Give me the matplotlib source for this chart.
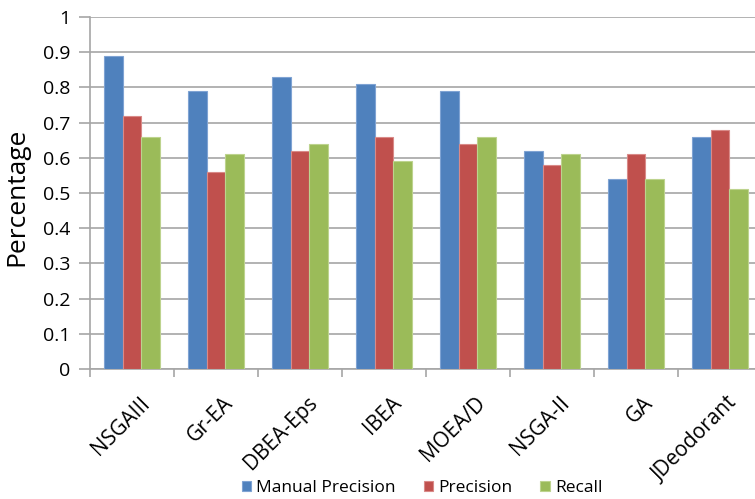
import numpy as np
import matplotlib
matplotlib.use("Agg")
import matplotlib.pyplot as plt
import matplotlib.transforms as mtransforms

plt.rcParams['font.family'] = ['Open Sans', 'DejaVu Sans']

categories = ["NSGAIII", "Gr-EA", "DBEA-Eps", "IBEA", "MOEA/D", "NSGA-II", "GA", "JDeodorant"]
manual_precision = [0.89, 0.79, 0.83, 0.81, 0.79, 0.62, 0.54, 0.66]
precision = [0.72, 0.56, 0.62, 0.66, 0.64, 0.58, 0.61, 0.68]
recall = [0.66, 0.61, 0.64, 0.59, 0.66, 0.61, 0.54, 0.51]
series_names = ["Manual Precision", "Precision", "Recall"]
y_ticks = [0, 0.1, 0.2, 0.3, 0.4, 0.5, 0.6, 0.7, 0.8, 0.9, 1]
y_tick_labels = ["0", "0.1", "0.2", "0.3", "0.4", "0.5", "0.6", "0.7", "0.8", "0.9", "1"]

fills = ["#4F81BD", "#C0504D", "#9BBB59"]
edges = ["#7FA3D3", "#D98A88", "#BDD38E"]
grid_grey = "#A6A6A6"

fig = plt.figure(figsize=(7.55, 4.99), dpi=100)
ax = fig.add_axes([90 / 755, 1 - 369 / 499, 672 / 755, 352 / 499])

x = np.arange(len(categories))
w = 1 / 4.5
for i, vals in enumerate([manual_precision, precision, recall]):
    ax.bar(x + (i - 1) * w, vals, width=w, color=fills[i], edgecolor=edges[i],
           linewidth=0.8, label=series_names[i], zorder=3)

ax.set_xlim(-0.5, len(categories) - 0.5)
ax.set_ylim(0, 1)
ax.set_yticks(y_ticks)
ax.set_yticklabels(y_tick_labels, fontsize=14)
ax.yaxis.grid(True, color=grid_grey, linewidth=1.2, zorder=0)
ax.tick_params(axis='y', length=8, width=1.2, color=grid_grey, pad=6)

# category boundaries carry the tick marks, centres carry the names
ax.set_xticks(np.arange(len(categories) + 1) - 0.5)
ax.set_xticklabels([])
ax.set_xticks(x, minor=True)
ax.set_xticklabels(categories, minor=True, rotation=45, ha='right',
                   rotation_mode='anchor', fontsize=15)
ax.tick_params(axis='x', which='major', length=6, width=1.2, color=grid_grey)
ax.tick_params(axis='x', which='minor', length=0, pad=17)
shift = mtransforms.ScaledTranslation(7 / 100, 0, fig.dpi_scale_trans)
for lbl in ax.get_xticklabels(minor=True):
    lbl.set_transform(lbl.get_transform() + shift)

for side in ['top', 'right']:
    ax.spines[side].set_visible(False)
for side in ['left', 'bottom']:
    ax.spines[side].set_color(grid_grey)
    ax.spines[side].set_linewidth(1.2)

fig.text(17 / 755, 1 - 197 / 499, "Percentage", rotation=90, fontsize=19,
         ha='center', va='center')

fig.legend(loc='center', bbox_to_anchor=(422 / 755, 1 - 488 / 499), ncol=3,
           frameon=False, fontsize=12.5, handlelength=0.55, handleheight=0.55,
           handletextpad=0.3, columnspacing=1.6)

fig.savefig("out.png", dpi=100)
